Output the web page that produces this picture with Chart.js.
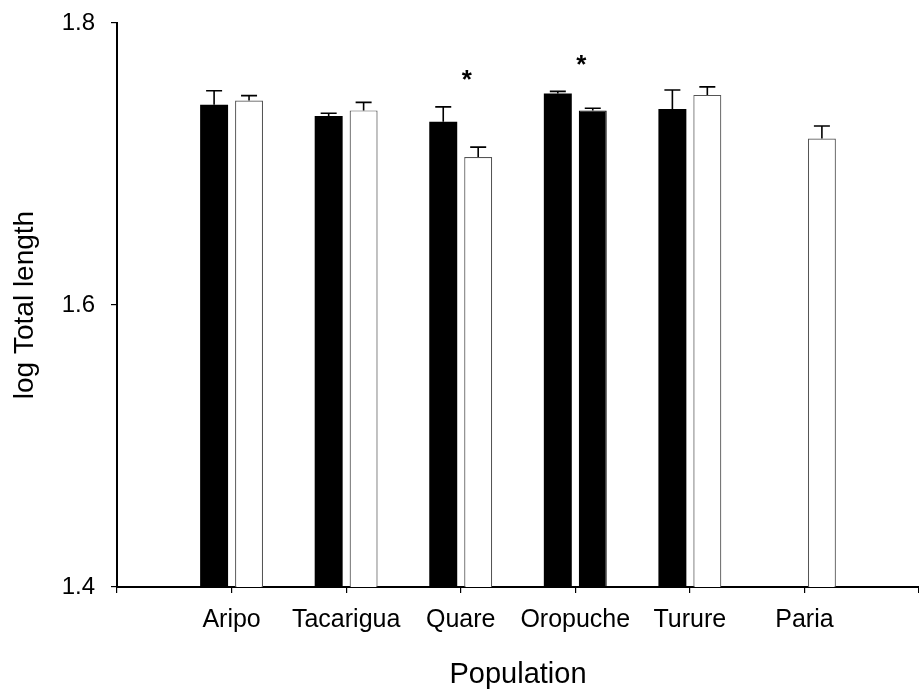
<!DOCTYPE html>
<html>
<head>
<meta charset="utf-8">
<script src="https://cdn.jsdelivr.net/npm/chart.js@4/dist/chart.umd.min.js"></script>
<style>
  html, body { margin: 0; padding: 0; background: #fff; }
  #wrap { width: 919px; height: 694px; position: relative; }
</style>
</head>
<body>
<div id="wrap"><canvas id="c" width="919" height="694"></canvas></div>
<script>
// ---- data ----
const categories = ['Aripo', 'Tacarigua', 'Quare', 'Oropuche', 'Turure', 'Paria'];
const firstMeans  = [1.742, 1.734, 1.730, 1.750, 1.739, null];
const firstErrors = [0.010, 0.002, 0.0105, 0.0015, 0.0135, null];
const secondMeans  = [1.745, 1.738, 1.705, 1.738, 1.749, 1.718];
const secondErrors = [0.0035, 0.0057, 0.007, 0.0015, 0.0057, 0.009];
const secondBlackIn = ['Oropuche'];
const significant = ['Quare', 'Oropuche'];
const yTicks = [1.4, 1.6, 1.8];

// pad the category axis with an empty slot at each end
const labels = [''].concat(categories, ['']);
const pad = arr => [null].concat(arr, [null]);

const BLACK = '#000000';
const WHITE = '#ffffff';
const FONT = "'Liberation Sans', Arial, sans-serif";

const errorBarPlugin = {
  id: 'errorBars',
  afterDatasetsDraw(chart) {
    const ctx = chart.ctx;
    const yScale = chart.scales.y;
    ctx.save();
    ctx.strokeStyle = '#000';
    ctx.lineWidth = 1.6;
    chart.data.datasets.forEach((ds, di) => {
      const meta = chart.getDatasetMeta(di);
      meta.data.forEach((bar, i) => {
        const v = ds.data[i];
        const e = ds.errors[i];
        if (v == null || e == null) return;
        const yTop = yScale.getPixelForValue(v + e);
        const yBar = yScale.getPixelForValue(v);
        ctx.beginPath();
        ctx.moveTo(bar.x, yBar);
        ctx.lineTo(bar.x, yTop);
        ctx.moveTo(bar.x - 8, yTop);
        ctx.lineTo(bar.x + 8, yTop);
        ctx.stroke();
      });
    });
    // significance asterisks
    ctx.fillStyle = '#000';
    ctx.font = 'bold 26px ' + FONT;
    ctx.textAlign = 'center';
    ctx.textBaseline = 'middle';
    const xScale = chart.scales.x;
    significant.forEach(name => {
      const idx = labels.indexOf(name);
      let top = Infinity;
      chart.data.datasets.forEach(ds => {
        const v = ds.data[idx], e = ds.errors[idx];
        if (v != null) top = Math.min(top, yScale.getPixelForValue(v + (e || 0)));
      });
      const x = xScale.getPixelForValue(idx) + 6;
      ctx.fillText('*', x, top - 26);
    });
    ctx.restore();
  }
};

new Chart(document.getElementById('c'), {
  type: 'bar',
  data: {
    labels: labels,
    datasets: [
      {
        label: 'A',
        data: pad(firstMeans),
        errors: pad(firstErrors),
        backgroundColor: BLACK,
        borderColor: BLACK,
        borderWidth: 0
      },
      {
        label: 'B',
        data: pad(secondMeans),
        errors: pad(secondErrors),
        backgroundColor: labels.map(c => secondBlackIn.includes(c) ? BLACK : WHITE),
        borderColor: labels.map(c => secondBlackIn.includes(c) ? BLACK : '#555555'),
        borderWidth: 1.2
      }
    ]
  },
  options: {
    responsive: false,
    animation: false,
    devicePixelRatio: 1,
    categoryPercentage: 0.61,
    barPercentage: 0.8,
    layout: { padding: { top: 23, right: 0, left: 0, bottom: 0 } },
    plugins: {
      legend: { display: false },
      tooltip: { enabled: false }
    },
    scales: {
      x: {
        offset: false,
        border: { display: true, color: '#000', width: 2 },
        grid: { display: true, offset: false, drawOnChartArea: false, drawTicks: true, tickLength: 6, color: '#000', lineWidth: 1.2 },
        ticks: { color: '#000', font: { family: FONT, size: 25 }, padding: 12, maxRotation: 0, autoSkip: false },
        title: { display: true, text: 'Population', color: '#000', font: { family: FONT, size: 29 }, padding: { top: 0, bottom: 2 } },
        afterFit(scale) { scale.height = 107; scale.paddingLeft = 0; scale.paddingRight = 0; }
      },
      y: {
        min: 1.4,
        max: 1.8,
        border: { display: true, color: '#000', width: 2 },
        grid: { display: true, drawOnChartArea: false, drawTicks: true, tickLength: 6, color: '#000', lineWidth: 1.2 },
        afterBuildTicks(scale) { scale.ticks = yTicks.map(v => ({ value: v })); },
        ticks: { color: '#000', font: { family: FONT, size: 24 }, padding: 16, callback: v => Number(v).toFixed(1) },
        title: { display: true, text: 'log Total length', color: '#000', font: { family: FONT, size: 28 }, padding: { top: 8, bottom: 0 } },
        afterFit(scale) { scale.width = 117; scale.paddingTop = 0; scale.paddingBottom = 0; }
      }
    }
  },
  plugins: [errorBarPlugin]
});
</script>
</body>
</html>
